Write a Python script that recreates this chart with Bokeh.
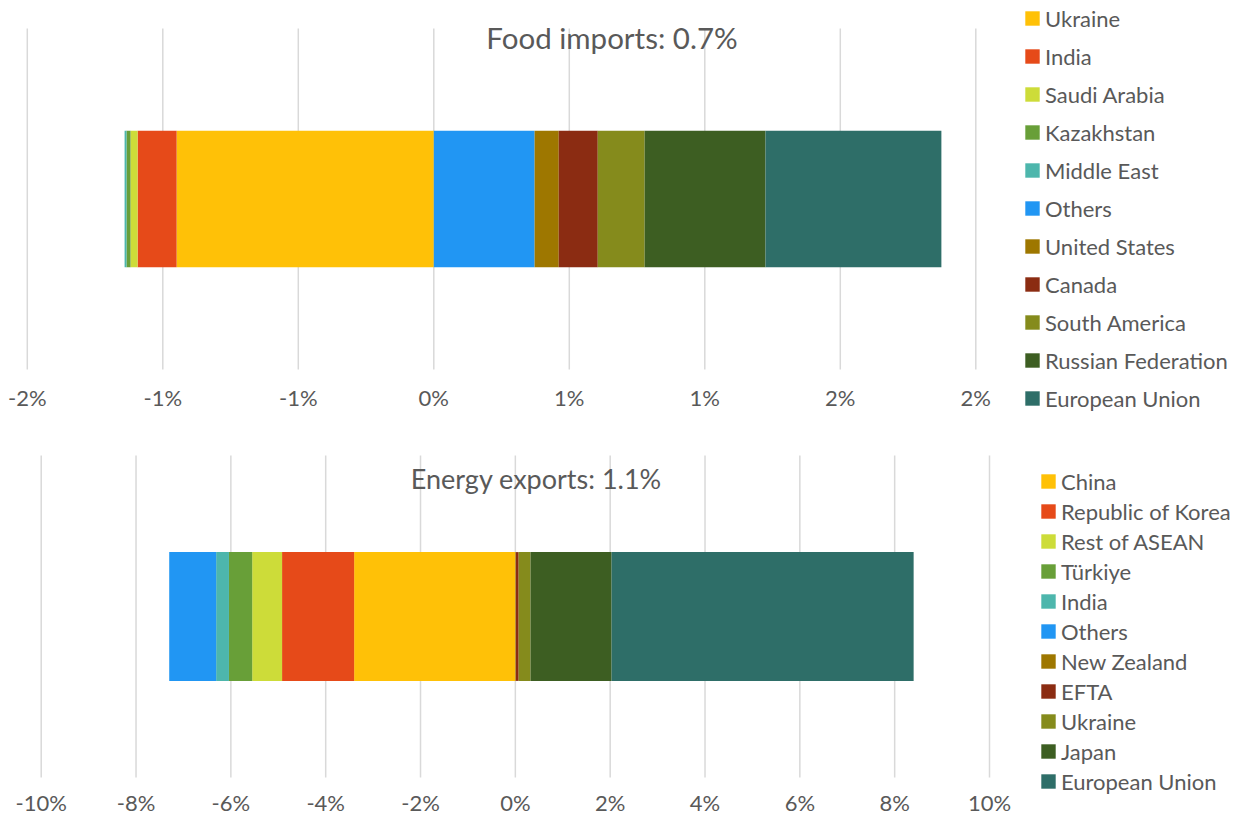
from bokeh.plotting import figure
from bokeh.models import Legend, LegendItem, Range1d, Label, ColumnDataSource
from bokeh.core.properties import value
from bokeh.embed import file_html
from bokeh.resources import INLINE

# ---------------- data ----------------
food_partners = ["Ukraine", "India", "Saudi Arabia", "Kazakhstan", "Middle East", "Others",
                 "United States", "Canada", "South America", "Russian Federation", "European Union"]
food_values = [-0.949, -0.144, -0.026, -0.015, -0.007, 0.372, 0.089, 0.144, 0.173, 0.446, 0.649]
food_title = "Food imports: 0.7%"
food_ticks = [-1.5, -1.0, -0.5, 0.0, 0.5, 1.0, 1.5, 2.0]
food_tick_labels = ["-2%", "-1%", "-1%", "0%", "1%", "1%", "2%", "2%"]

energy_partners = ["China", "Republic of Korea", "Rest of ASEAN", "Türkiye", "India", "Others",
                   "New Zealand", "EFTA", "Ukraine", "Japan", "European Union"]
energy_values = [-3.40, -1.52, -0.63, -0.49, -0.27, -0.99, 0.01, 0.06, 0.25, 1.71, 6.37]
energy_title = "Energy exports: 1.1%"
energy_ticks = [-10, -8, -6, -4, -2, 0, 2, 4, 6, 8, 10]
energy_tick_labels = ["-10%", "-8%", "-6%", "-4%", "-2%", "0%", "2%", "4%", "6%", "8%", "10%"]

palette = ["#FFC107", "#E64A19", "#CDDC39", "#689F38", "#4DB6AC", "#2196F3",
           "#9E7700", "#8B2C12", "#858B1C", "#3D5E22", "#2E6E68"]

FONT = "Lato"
TEXT = "#595959"
GRID = "#D9D9D9"
W, H = 1244, 822


def stack(values):
    lefts, rights = [], []
    neg, pos = 0.0, 0.0
    for v in values:
        if v < 0:
            lefts.append(neg + v)
            rights.append(neg)
            neg += v
        else:
            lefts.append(pos)
            rights.append(pos + v)
            pos += v
    return lefts, rights


def ranges(zero_px, px_per_unit, plot_top_px, plot_bottom_px):
    """x/y ranges (over the whole canvas) for a panel whose 0..1 band spans the given pixels."""
    xr = Range1d(-zero_px / px_per_unit, (W - zero_px) / px_per_unit)
    hpx = plot_bottom_px - plot_top_px
    yr = Range1d((plot_bottom_px - H) / hpx, plot_bottom_px / hpx)
    return xr, yr


food_xr, food_yr = ranges(433.3, 271.0, 28, 369)
en_xr, en_yr = ranges(514.85, 47.415, 455, 777)

p = figure(width=W, height=H, output_backend="svg", toolbar_location=None,
           x_range=food_xr, y_range=food_yr, x_axis_location=None, y_axis_location=None,
           min_border=0, min_border_left=0, min_border_right=0,
           min_border_top=0, min_border_bottom=0)
p.extra_x_ranges = {"energy": en_xr}
p.extra_y_ranges = {"energy": en_yr}
p.outline_line_color = None
p.background_fill_color = "white"
p.border_fill_color = "white"
p.grid.visible = False


def panel(partners, values, ticks, tick_labels, title, title_x, title_y, title_size,
          label_y, legend_loc, item_h, rname):
    kw = {} if rname is None else dict(x_range_name=rname, y_range_name=rname)
    # grid lines at the ticks
    p.segment(x0=ticks, x1=ticks, y0=[0] * len(ticks), y1=[1] * len(ticks),
              line_color=GRID, line_width=1.5, **kw)
    # tick labels
    p.text(x=ticks, y=[label_y] * len(ticks), text=tick_labels, text_align="center",
           text_baseline="middle", text_font=value(FONT), text_font_size="22px",
           text_color=TEXT, **kw)
    lefts, rights = stack(values)
    src = ColumnDataSource(dict(name=partners, left=lefts, right=rights,
                                y=[0.5] * len(partners), color=palette[:len(partners)]))
    r = p.hbar(y="y", left="left", right="right", height=0.4, color="color",
               line_color=None, source=src, **kw)
    p.add_layout(Label(x=title_x, y=title_y, text=title, text_align="center",
                       text_baseline="middle", text_font_size=title_size, text_font=FONT,
                       text_color=TEXT, **kw))
    items = [LegendItem(label=n, renderers=[r], index=i) for i, n in enumerate(partners)]
    leg = Legend(items=items, location=legend_loc, border_line_color=None,
                 background_fill_alpha=0, padding=0, margin=0, spacing=0,
                 label_height=item_h, glyph_width=18, glyph_height=18, label_standoff=4,
                 label_text_font_size="22px", label_text_font=FONT, label_text_color=TEXT)
    p.add_layout(leg)


# food panel: legend top at y=-1px, 11 items of 38px -> bottom at 417px
panel(food_partners, food_values, food_ticks, food_tick_labels, food_title,
      0.6576, (369 - 37) / 341, "29.5px", (369 - 397) / 341, (1023, H - 417), 38, None)
# energy panel: legend top at 466px, 11 items of 30px -> bottom at 796px
panel(energy_partners, energy_values, energy_ticks, energy_tick_labels, energy_title,
      0.443, (777 - 478) / 322, "27px", (777 - 802) / 322, (1039, H - 796), 30, "energy")

open("out.html", "w").write(file_html(p, INLINE))
